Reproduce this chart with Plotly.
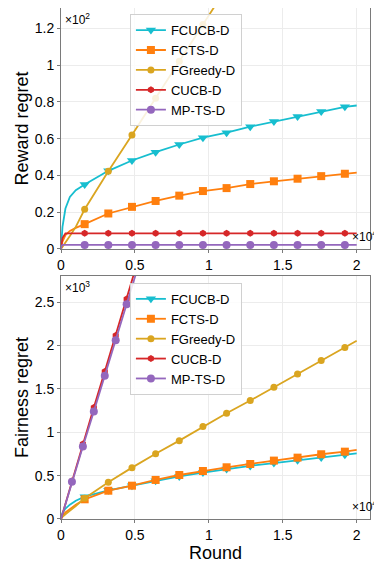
import plotly.graph_objects as go

# shared round grid for the smooth curves
rounds = [0, 30, 100, 300, 600, 1000, 1600, 3200, 4800, 6400, 8000, 9600,
          11200, 12800, 14400, 16000, 17600, 19200, 20000]
mark_rounds = [1600, 3200, 4800, 6400, 8000, 9600, 11200, 12800, 14400, 16000, 17600, 19200]

# reward regret
fcucb_reward = [0, 7, 12, 22, 28.3, 32, 35.1, 42.5, 48.1, 52.6, 56.8, 60.5, 63.2, 66.5, 69.3, 72, 74.8, 77.3, 78]
fcts_reward = [1, 2.5, 4, 7.6, 9.8, 11.5, 13.5, 19.3, 22.9, 26.1, 29.0, 31.5, 33.1, 35.3, 36.8, 38.2, 39.6, 40.9, 41.5]
fgreedy_reward = [0, 0.3, 1, 3.5, 7, 12, 21.6, 42.3, 62, 82, 102, 122, 142, 162, 182, 202, 222, 242, 252]
cucb_reward = [0, 3, 6, 8.5, 8.5, 8.5, 8.5, 8.5, 8.5, 8.5, 8.5, 8.5, 8.5, 8.5, 8.5, 8.5, 8.5, 8.5, 8.5]
mpts_reward = [0, 1.5, 2.2, 2.2, 2.2, 2.2, 2.2, 2.2, 2.2, 2.2, 2.2, 2.2, 2.2, 2.2, 2.2, 2.2, 2.2, 2.2, 2.2]

# fairness regret
fcucb_fair = [0, 40, 70, 120, 165, 210, 257, 330, 384, 440, 490, 535, 575, 612, 645, 677, 710, 740, 757]
fcts_fair = [0, 15, 35, 75, 115, 165, 227, 326, 384, 450, 507, 553, 596, 634, 673, 707, 746, 776, 796]
fgreedy_fair = [0, 10, 25, 55, 95, 150, 240, 423, 592, 753, 903, 1065, 1219, 1365, 1518, 1672, 1826, 1976, 2053]
rounds_fast = [0, 740, 1480, 2220, 2960, 3700, 4440, 5180, 20000]
mark_fast = [740, 1480, 2220, 2960, 3700, 4440, 5180]
cucb_fair = [0, 438, 865, 1284, 1700, 2114, 2534, 2950, 11420]
mpts_fair = [0, 430, 835, 1238, 1650, 2060, 2476, 2890, 11150]

names = ["FCUCB-D", "FCTS-D", "FGreedy-D", "CUCB-D", "MP-TS-D"]
colors = ["#17becf", "#ff7f0e", "#daa520", "#d62728", "#9467bd"]
symbols = ["triangle-down", "square", "circle", "hexagon", "circle"]
msizes = [9, 8, 7, 7, 8]

FONT = "Liberation Sans, Arial, sans-serif"


def add_series(fig, x, y, marks, i, row, legend):
    xa = "x" if row == 1 else "x2"
    ya = "y" if row == 1 else "y2"
    lookup = dict(zip(x, y))
    fig.add_trace(go.Scatter(x=x, y=y, mode="lines", xaxis=xa, yaxis=ya,
                             line=dict(color=colors[i], width=1.8),
                             showlegend=False, hoverinfo="skip"))
    fig.add_trace(go.Scatter(x=marks, y=[lookup[m] for m in marks], mode="markers",
                             xaxis=xa, yaxis=ya, showlegend=False,
                             marker=dict(symbol=symbols[i], size=msizes[i], color=colors[i])))
    # legend entry only
    fig.add_trace(go.Scatter(x=[None], y=[None], mode="lines+markers", xaxis=xa, yaxis=ya,
                             name=names[i], legend=legend,
                             line=dict(color=colors[i], width=1.8),
                             marker=dict(symbol=symbols[i], size=msizes[i], color=colors[i])))


fig = go.Figure()

top = [fcucb_reward, fcts_reward, fgreedy_reward, cucb_reward, mpts_reward]
for i in range(5):
    add_series(fig, rounds, top[i], mark_rounds, i, 1, "legend")

bottom = [(rounds, fcucb_fair, mark_rounds), (rounds, fcts_fair, mark_rounds),
          (rounds, fgreedy_fair, mark_rounds), (rounds_fast, cucb_fair, mark_fast),
          (rounds_fast, mpts_fair, mark_fast)]
for i, (x, y, m) in enumerate(bottom):
    add_series(fig, x, y, m, i, 2, "legend2")

axis_common = dict(showgrid=True, gridcolor="#ececec", gridwidth=1, zeroline=False,
                   showline=True, mirror=True, linecolor="#7a7a7a", linewidth=1,
                   ticks="outside", ticklen=3, tickcolor="#7a7a7a",
                   tickfont=dict(size=14, color="black"))

xt = dict(tickvals=[0, 5000, 10000, 15000, 20000], ticktext=["0", "0.5", "1", "1.5", "2"],
          range=[0, 20900])

legend_common = dict(x=0.223, xanchor="left", yanchor="top", bgcolor="rgba(255,255,255,0.85)",
                     bordercolor="#d0d0d0", borderwidth=1, font=dict(size=13, color="black"),
                     tracegroupgap=0)

# page body adds an 8px margin, so the figure is sized 8px smaller each way
fig.update_layout(
    width=374, height=556,
    margin=dict(l=53, r=12, t=0, b=45),
    plot_bgcolor="white", paper_bgcolor="white",
    font=dict(family=FONT, color="black"),
    xaxis=dict(domain=[0, 1], anchor="y", **xt, **axis_common),
    yaxis=dict(domain=[0.5284, 1], anchor="x", range=[0, 131],
               tickvals=[0, 20, 40, 60, 80, 100, 120],
               ticktext=["0", "0.2", "0.4", "0.6", "0.8", "1", "1.2"],
               title=dict(text="Reward regret", font=dict(size=18), standoff=1), **axis_common),
    xaxis2=dict(domain=[0, 1], anchor="y2", **xt,
                title=dict(text="Round", font=dict(size=18), standoff=2), **axis_common),
    yaxis2=dict(domain=[0, 0.4755], anchor="x2", range=[0, 2800],
                tickvals=[0, 500, 1000, 1500, 2000, 2500],
                ticktext=["0", "0.5", "1", "1.5", "2", "2.5"],
                title=dict(text="Fairness regret", font=dict(size=18), standoff=1), **axis_common),
    legend=dict(y=0.988, **legend_common),
    legend2=dict(y=0.462, **legend_common),
)

# scale factors, matplotlib style
for txt, x, y, xa, ya, xs in [("×10<sup>2</sup>", 0.005, 0.998, "left", "top", 0),
                              ("×10<sup>4</sup>", 1.0, 0.534, "right", "bottom", 9),
                              ("×10<sup>3</sup>", 0.005, 0.473, "left", "top", 0),
                              ("×10<sup>4</sup>", 1.0, 0.006, "right", "bottom", 9)]:
    fig.add_annotation(text=txt, x=x, y=y, xref="paper", yref="paper", xanchor=xa, yanchor=ya,
                       xshift=xs, showarrow=False, font=dict(size=12, color="black"))

fig.write_html("out.html")
